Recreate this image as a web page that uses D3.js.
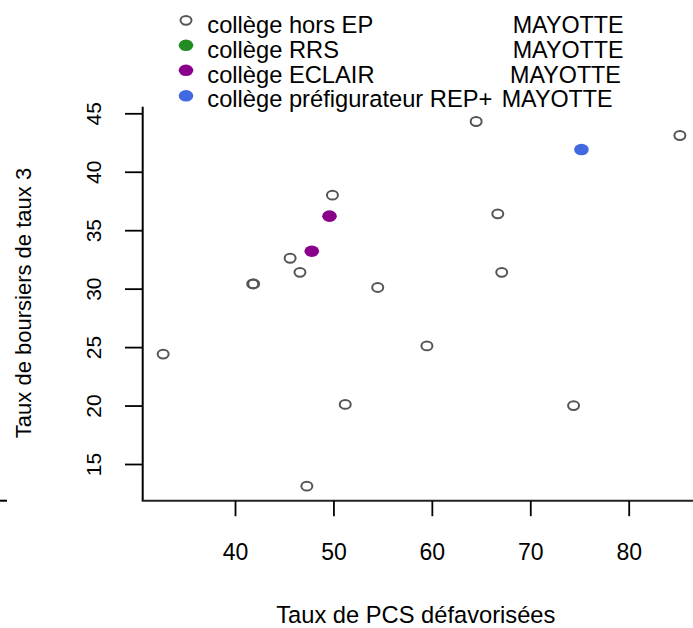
<!DOCTYPE html>
<html>
<head>
<meta charset="utf-8">
<script src="https://cdn.jsdelivr.net/npm/d3@7"></script>
<style>
  html, body { margin: 0; padding: 0; background: #fff; }
  svg { display: block; }
  text { font-family: "Liberation Sans", Arial, sans-serif; fill: #000; }
</style>
</head>
<body>
<svg id="chart" width="693" height="628"></svg>
<script>
// ---- data ----
const categories = ["collège hors EP", "collège RRS", "collège ECLAIR", "collège préfigurateur REP+"];
const legendRegion = "MAYOTTE";
const categoryColors = ["#555555", "#228B22", "#8B008B", "#4169E1"];

// collège hors EP (open circles)
const horsEP_x = [49.9, 45.6, 46.6, 41.8, 41.9, 54.5, 32.7, 51.2, 47.3, 64.5, 85.2, 66.7, 67.1, 59.5, 74.4];
const horsEP_y = [38.0, 32.6, 31.4, 30.4, 30.4, 30.1, 24.4, 20.1, 13.1, 44.3, 43.1, 36.4, 31.4, 25.1, 20.0];
// collège RRS (none visible)
const rrs_x = [];
const rrs_y = [];
// collège ECLAIR
const eclair_x = [49.6, 47.8];
const eclair_y = [36.2, 33.2];
// collège préfigurateur REP+
const rep_x = [75.2];
const rep_y = [41.9];

const xTicks = [40, 50, 60, 70, 80];
const yTicks = [15, 20, 25, 30, 35, 40, 45];
const xLabel = "Taux de PCS défavorisées";
const yLabel = "Taux de boursiers de taux 3";

// ---- drawing ----
const svg = d3.select("#chart");

const x = d3.scaleLinear().domain([40, 80]).range([235, 628.7]);
const y = d3.scaleLinear().domain([15, 45]).range([464, 113.3]);

const axisLeftX = 142.7;
const axisBottomY = 500.7;

// axis lines (L-shaped frame)
svg.append("line")
  .attr("x1", axisLeftX).attr("x2", axisLeftX)
  .attr("y1", 106.7).attr("y2", axisBottomY)
  .attr("stroke", "#000").attr("stroke-width", 2);
svg.append("line")
  .attr("x1", axisLeftX - 1).attr("x2", 700)
  .attr("y1", axisBottomY).attr("y2", axisBottomY)
  .attr("stroke", "#222").attr("stroke-width", 2);
svg.append("line")
  .attr("x1", 0).attr("x2", 7)
  .attr("y1", axisBottomY).attr("y2", axisBottomY)
  .attr("stroke", "#000").attr("stroke-width", 2);

// x axis ticks
const xAxis = d3.axisBottom(x).tickValues(xTicks).tickSize(15.5).tickPadding(0).tickFormat(d3.format("d"));
const gx = svg.append("g").attr("transform", `translate(0,${axisBottomY})`).call(xAxis);
gx.select(".domain").remove();
gx.selectAll(".tick line").attr("stroke", "#000").attr("stroke-width", 1.8);
gx.selectAll(".tick text")
  .attr("y", 59).attr("dy", null)
  .style("font-size", "23px")
  .style("font-family", '"Liberation Sans", Arial, sans-serif')
  .attr("fill", "#000");

// y axis ticks
const yAxis = d3.axisLeft(y).tickValues(yTicks).tickSize(17.7).tickPadding(0).tickFormat(d3.format("d"));
const gy = svg.append("g").attr("transform", `translate(${axisLeftX},0)`).call(yAxis);
gy.select(".domain").remove();
gy.selectAll(".tick line").attr("stroke", "#000").attr("stroke-width", 1.8);
gy.selectAll(".tick text")
  .attr("x", null).attr("dy", null)
  .attr("text-anchor", "middle")
  .attr("transform", "translate(-41.5,0) rotate(-90)")
  .style("font-size", "21px")
  .style("font-family", '"Liberation Sans", Arial, sans-serif')
  .attr("fill", "#000");

// axis titles
svg.append("text")
  .attr("x", 415.8).attr("y", 623)
  .attr("text-anchor", "middle")
  .style("font-size", "23.7px")
  .text(xLabel);
svg.append("text")
  .attr("transform", "translate(31,303) rotate(-90)")
  .attr("text-anchor", "middle")
  .style("font-size", "22px")
  .text(yLabel);

// points
const series = [
  { xs: horsEP_x, ys: horsEP_y, open: true, color: categoryColors[0] },
  { xs: rrs_x, ys: rrs_y, open: false, color: categoryColors[1] },
  { xs: eclair_x, ys: eclair_y, open: false, color: categoryColors[2] },
  { xs: rep_x, ys: rep_y, open: false, color: categoryColors[3] }
];

series.forEach(s => {
  const pts = s.xs.map((v, i) => ({ x: v, y: s.ys[i] }));
  const sel = svg.append("g").selectAll("ellipse").data(pts).join("ellipse")
    .attr("cx", d => x(d.x)).attr("cy", d => y(d.y));
  if (s.open) {
    sel.attr("rx", 5.5).attr("ry", 4.4)
      .attr("fill", "none").attr("stroke", s.color).attr("stroke-width", 2);
  } else {
    sel.attr("rx", 7.3).attr("ry", 5.8).attr("fill", s.color);
  }
});

// legend
const legendRowsSym = [20.3, 45.3, 70.3, 95.8];
const legendRowsText = [32.7, 57.6, 82.5, 107.4];
const regionX = [512.7, 512.7, 510, 501.7];
const lg = svg.append("g");
categories.forEach((c, i) => {
  if (i === 0) {
    lg.append("ellipse").attr("cx", 186).attr("cy", legendRowsSym[i])
      .attr("rx", 5.5).attr("ry", 4.4)
      .attr("fill", "none").attr("stroke", categoryColors[i]).attr("stroke-width", 2);
  } else {
    lg.append("ellipse").attr("cx", 186).attr("cy", legendRowsSym[i])
      .attr("rx", 7.3).attr("ry", 5.8).attr("fill", categoryColors[i]);
  }
  lg.append("text").attr("x", 207.3).attr("y", legendRowsText[i])
    .style("font-size", "23.7px").text(c);
  lg.append("text").attr("x", regionX[i]).attr("y", legendRowsText[i])
    .style("font-size", "23.3px").text(legendRegion);
});
</script>
</body>
</html>
